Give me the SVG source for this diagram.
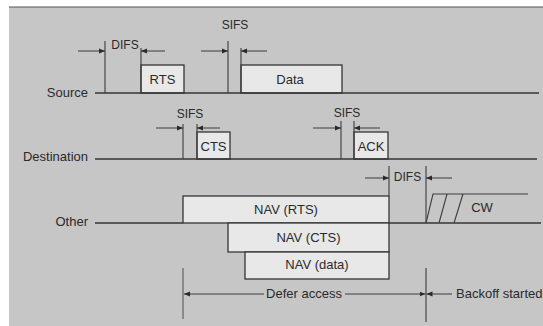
<svg xmlns="http://www.w3.org/2000/svg" width="543" height="326" viewBox="0 0 543 326">
<defs>
<marker id="ah" viewBox="0 0 10 10" refX="10" refY="5" markerWidth="6" markerHeight="6" orient="auto" markerUnits="userSpaceOnUse">
<path d="M0,1 L10,5 L0,9 z" fill="#2a2a2a"/>
</marker>
<style>
.ln{stroke:#353535;stroke-width:1.3;fill:none}
.thin{stroke:#3c3c3c;stroke-width:1.1;fill:none}
.box{fill:#e8e8e8;stroke:#353535;stroke-width:1.3}
.ar{stroke:#3a3a3a;stroke-width:1;fill:none;marker-end:url(#ah)}
text{font-family:"Liberation Sans",Arial,sans-serif;font-size:13px;fill:#2a2a2a}
.s{font-size:12px}
.m{text-anchor:middle}
.e{text-anchor:end}
</style>
</defs>
<rect x="0" y="0" width="543" height="326" fill="#ffffff"/>
<rect x="9" y="7" width="534" height="319" fill="#c6c6c6"/>
<line x1="9" y1="7" x2="543" y2="7" stroke="#555" stroke-width="1.2"/>

<g id="source">
<text class="e" x="88" y="97">Source</text>
<rect class="box" x="141" y="65" width="43" height="28"/>
<text class="m" x="162.5" y="84">RTS</text>
<rect class="box" x="241" y="65" width="101" height="28"/>
<text class="m" x="290" y="84">Data</text>
</g>
<g id="destination">
<text class="e" x="88" y="161">Destination</text>
<rect class="box" x="197" y="132" width="33" height="27"/>
<text class="m" x="213.5" y="151">CTS</text>
<rect class="box" x="354" y="132" width="34" height="27"/>
<text class="m" x="371" y="151">ACK</text>
</g>
<g id="other">
<text class="e" x="88" y="226">Other</text>
<rect class="box" x="183" y="196" width="206" height="27"/>
<text class="m" x="286" y="214">NAV (RTS)</text>
<rect class="box" x="228" y="223" width="161" height="29"/>
<text class="m" x="308.5" y="242">NAV (CTS)</text>
<rect class="box" x="245" y="252" width="144" height="27"/>
<text class="m" x="317" y="269">NAV (data)</text>
<text class="m" x="482" y="212">CW</text>
</g>
<g id="labels">
<text class="m s" x="125" y="49">DIFS</text>
<text class="m s" x="235" y="29">SIFS</text>
<text class="m s" x="190" y="118">SIFS</text>
<text class="m s" x="347" y="117">SIFS</text>
<text class="m s" x="407.5" y="181">DIFS</text>
<text class="m" x="304" y="298">Defer access</text>
<text x="456" y="298">Backoff started</text>
</g>
<g id="connectors">
<line class="ln" x1="95" y1="93" x2="539" y2="93"/>
<line class="ln" x1="95" y1="159" x2="537" y2="159"/>
<line class="ln" x1="95" y1="223" x2="183" y2="223"/>
<line class="ln" x1="389" y1="223" x2="541" y2="223"/>
<line class="thin" x1="105" y1="41" x2="105" y2="93"/>
<line class="thin" x1="141" y1="48" x2="141" y2="93"/>
<line class="ar" x1="78" y1="51" x2="105" y2="51"/>
<line class="ar" x1="165" y1="51" x2="141" y2="51"/>
<line class="thin" x1="228" y1="41" x2="228" y2="93"/>
<line class="thin" x1="241" y1="48" x2="241" y2="93"/>
<line class="ar" x1="201" y1="51" x2="228" y2="51"/>
<line class="ar" x1="267" y1="51" x2="241" y2="51"/>
<line class="thin" x1="183" y1="124" x2="183" y2="159"/>
<line class="thin" x1="197" y1="124" x2="197" y2="159"/>
<line class="ar" x1="156" y1="128" x2="183" y2="128"/>
<line class="ar" x1="220" y1="128" x2="197" y2="128"/>
<line class="thin" x1="341" y1="121" x2="341" y2="159"/>
<line class="thin" x1="354" y1="121" x2="354" y2="159"/>
<line class="ar" x1="313" y1="128" x2="341" y2="128"/>
<line class="ar" x1="380" y1="128" x2="354" y2="128"/>
<line class="thin" x1="389" y1="166" x2="389" y2="196"/>
<line class="thin" x1="426" y1="166" x2="426" y2="223"/>
<line class="ar" x1="365" y1="178" x2="389" y2="178"/>
<line class="ar" x1="452" y1="178" x2="426" y2="178"/>
<path class="thin" d="M426,223 L433,194 L528,194 M439,223 L447,194 M454,223 L463,194"/>
<line class="thin" x1="183" y1="268" x2="183" y2="319" stroke-opacity="0.8"/>
<line class="thin" x1="426" y1="268" x2="426" y2="322"/>
<line class="ar" x1="264" y1="294" x2="184" y2="294"/>
<line class="ar" x1="345" y1="294" x2="425.5" y2="294"/>
<line class="ar" x1="452" y1="294" x2="426.5" y2="294"/>
</g>
</svg>
